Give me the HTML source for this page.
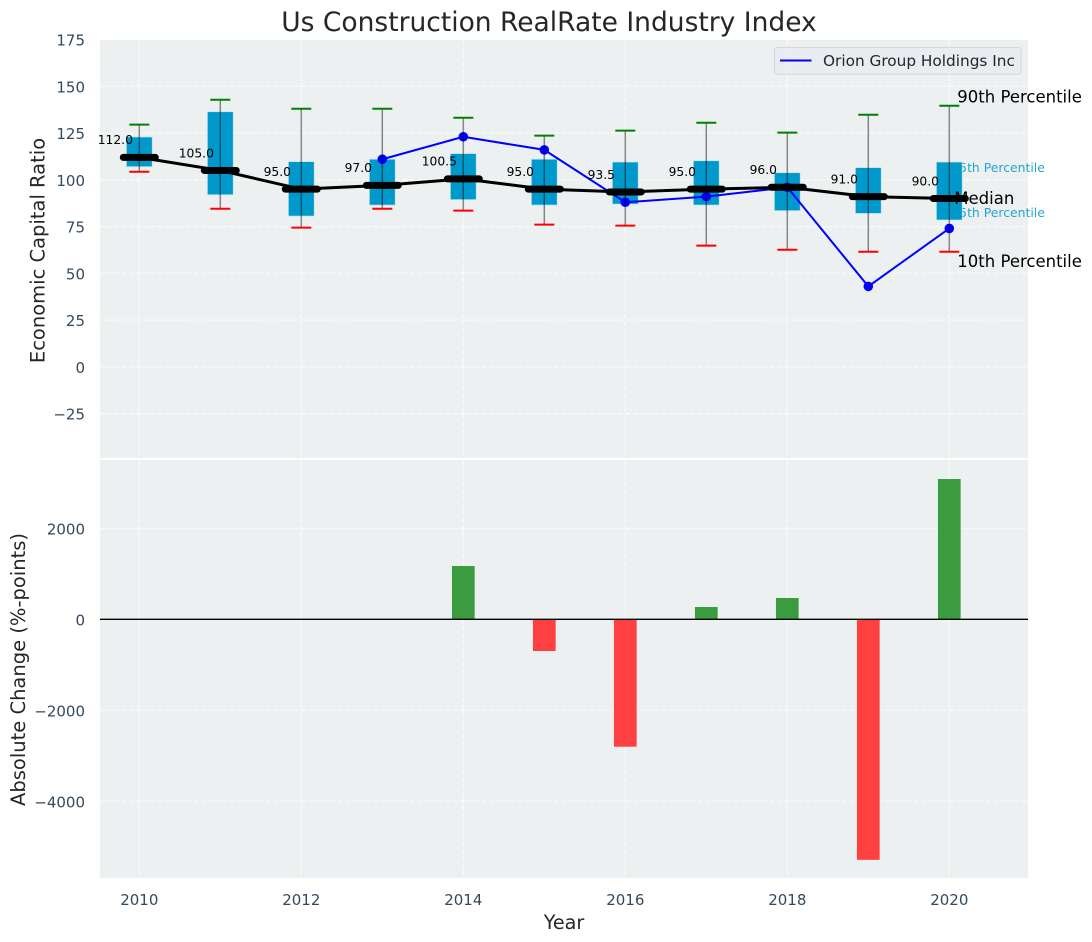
<!DOCTYPE html>
<html>
<head>
<meta charset="utf-8">
<title>Us Construction RealRate Industry Index</title>
<style>
html,body{margin:0;padding:0;background:#fff;width:1092px;height:942px;overflow:hidden}
svg{display:block}
text{font-family:"DejaVu Sans","Liberation Sans",sans-serif}
</style>
</head>
<body>
<svg id="chart" xmlns="http://www.w3.org/2000/svg" width="1092" height="942" viewBox="0 0 1092 942"></svg>
<script>
const years = [2010,2011,2012,2013,2014,2015,2016,2017,2018,2019,2020];
const p90 = [129.5,142.8,138,138,133.2,123.6,126.3,130.5,125.2,134.8,139.6];
const p75 = [122.9,136.4,109.7,111,114,111,109.5,110.2,103.8,106.5,109.5];
const median = [112,105,95,97,100.5,95,93.5,95,96,91,90];
const p25 = [107,92,80.6,86.5,89.4,86.5,87,86.5,83.5,82,78.5];
const p10 = [104.3,84.5,74.4,84.5,83.5,76,75.5,64.8,62.6,61.5,61.5];
const orion = [null,null,null,111,123,116,88,91,96,43,74];
const change = [null,null,null,null,1171,-697,-2800,270,468,-5286,3083];
const xTicks = [2010,2012,2014,2016,2018,2020];
const topTicks = [175,150,125,100,75,50,25,0,-25];
const bottomTicks = [2000,0,-2000,-4000];

const NS = 'http://www.w3.org/2000/svg';
const svg = document.getElementById('chart');
const AX_L = 100, AX_R = 1028, TOP_T = 40, TOP_B = 458, BOT_T = 460, BOT_B = 878;
const x = y => 139.3 + 81 * (y - 2010);
const yTop = v => 366.8 - 1.87 * v;
const yBot = v => 619.3 - 0.0455 * v;

function make(tag, attrs, txt) {
  const el = document.createElementNS(NS, tag);
  for (const k in attrs) el.setAttribute(k, attrs[k]);
  if (txt !== undefined) el.textContent = txt;
  svg.appendChild(el);
  return el;
}
let el;

el = make('rect', {x:AX_L, y:TOP_T, width:AX_R-AX_L, height:TOP_B-TOP_T, fill:'#ecf0f1'});


el = make('rect', {x:AX_L, y:BOT_T, width:AX_R-AX_L, height:BOT_B-BOT_T, fill:'#ecf0f1'});



const gridStyle = {stroke:'#ffffff', 'stroke-width':1.2, 'stroke-dasharray':'5 2.2', opacity:0.75};
xTicks.forEach(t => {
  el = make('line', Object.assign({x1:x(t), x2:x(t), y1:TOP_T, y2:TOP_B}, gridStyle));
  
  
  el = make('line', Object.assign({x1:x(t), x2:x(t), y1:BOT_T, y2:BOT_B}, gridStyle));
  
  
  el = make('text', {x:x(t), y:905, 'text-anchor':'middle', 'font-size':15, fill:'#34495e'}, String(t));
  
  
});
topTicks.forEach(t => {
  if (t !== 175) {
    el = make('line', Object.assign({x1:AX_L, x2:AX_R, y1:yTop(t), y2:yTop(t)}, gridStyle));
    
    
  }
  el = make('text', {x:85, y:yTop(t)+6, 'text-anchor':'end', 'font-size':15, fill:'#34495e'}, String(t).replace('-', '\u2212'));
  
  
});
bottomTicks.forEach(t => {
  el = make('line', Object.assign({x1:AX_L, x2:AX_R, y1:yBot(t), y2:yBot(t)}, gridStyle));
  
  
  el = make('text', {x:85, y:yBot(t)+6, 'text-anchor':'end', 'font-size':15, fill:'#34495e'}, String(t).replace('-', '\u2212'));
  
  
});

const last = years.length - 1;
const lastX = x(years[last]);

el = make('text', {x:lastX+2, y:yTop(p75[last])+10, 'font-size':12.4, fill:'#0099cc', opacity:0.85}, '75th Percentile');


el = make('text', {x:lastX+2, y:yTop(p25[last])-3, 'font-size':12.4, fill:'#0099cc', opacity:0.85}, '25th Percentile');



years.forEach((yr, i) => {
  const w = 25.8;
  el = make('rect', {x:x(yr)-w/2, y:yTop(p75[i]), width:w, height:yTop(p25[i])-yTop(p75[i]), fill:'#0099cc', stroke:'#bfe3ef', 'stroke-width':0.7});
  
  
});

let orionPts = [];
years.forEach((yr, i) => { if (orion[i] !== null) orionPts.push(x(yr) + ',' + yTop(orion[i])); });
el = make('polyline', {points:orionPts.join(' '), fill:'none', stroke:'#0000ff', 'stroke-width':2});


years.forEach((yr, i) => {
  if (orion[i] === null) return;
  el = make('circle', {cx:x(yr), cy:yTop(orion[i]), r:4.8, fill:'#0000ff'});
  
  
});

years.forEach((yr, i) => {
  el = make('line', {x1:x(yr), x2:x(yr), y1:yTop(p90[i]), y2:yTop(p10[i]), stroke:'#000', 'stroke-opacity':0.45, 'stroke-width':1.5});
  
  
  el = make('line', {x1:x(yr)-10, x2:x(yr)+10, y1:yTop(p90[i]), y2:yTop(p90[i]), stroke:'#008000', 'stroke-width':2});
  
  
  el = make('line', {x1:x(yr)-10, x2:x(yr)+10, y1:yTop(p10[i]), y2:yTop(p10[i]), stroke:'#ff0000', 'stroke-width':2});
  
  
});

el = make('polyline', {points:years.map((yr, i) => x(yr) + ',' + yTop(median[i])).join(' '), fill:'none', stroke:'#000', 'stroke-width':3});


years.forEach((yr, i) => {
  el = make('line', {x1:x(yr)-16, x2:x(yr)+16, y1:yTop(median[i]), y2:yTop(median[i]), stroke:'#000', 'stroke-width':7, 'stroke-linecap':'round'});
  
  
  el = make('text', {x:x(yr)-24, y:yTop(median[i])-13.2, 'text-anchor':'middle', 'font-size':12.3, fill:'#000'}, median[i].toFixed(1));
  
  
});

el = make('text', {x:lastX+8, y:yTop(p90[last])-3, 'font-size':16.5, fill:'#000'}, '90th Percentile');


el = make('text', {x:lastX+5, y:yTop(median[last])+5.5, 'font-size':16.5, fill:'#000'}, 'Median');


el = make('text', {x:lastX+8, y:yTop(p10[last])+15, 'font-size':16.5, fill:'#000'}, '10th Percentile');



years.forEach((yr, i) => {
  if (change[i] === null) return;
  const v = change[i], w = 22.7;
  const y0 = Math.min(yBot(0), yBot(v));
  const h = Math.abs(yBot(v) - yBot(0));
  el = make('rect', {x:x(yr)-w/2, y:y0, width:w, height:h, fill:v >= 0 ? '#3a9c3f' : '#ff4040'});
  
  
});
el = make('line', {x1:AX_L, x2:AX_R, y1:yBot(0), y2:yBot(0), stroke:'#000', 'stroke-width':1.3});



el = make('rect', {x:774.5, y:47.5, width:246.5, height:26.8, rx:3, fill:'#e9ebf0', 'fill-opacity':0.9, stroke:'#d6d6dc', 'stroke-width':1});


el = make('line', {x1:780, x2:811.5, y1:60.5, y2:60.5, stroke:'#0000ff', 'stroke-width':2});


el = make('text', {x:823, y:66, 'font-size':15.3, fill:'#262626'}, 'Orion Group Holdings Inc');



el = make('text', {x:549, y:31, 'text-anchor':'middle', 'font-size':26.5, fill:'#262626'}, 'Us Construction RealRate Industry Index');


el = make('text', {x:564, y:929, 'text-anchor':'middle', 'font-size':19.2, fill:'#262626'}, 'Year');


el = make('text', {transform:'translate(44.5,250.5) rotate(-90)', 'text-anchor':'middle', 'font-size':19.5, fill:'#262626'}, 'Economic Capital Ratio');


el = make('text', {transform:'translate(25,669.5) rotate(-90)', 'text-anchor':'middle', 'font-size':19.5, fill:'#262626'}, 'Absolute Change (%-points)');


</script>
</body>
</html>
